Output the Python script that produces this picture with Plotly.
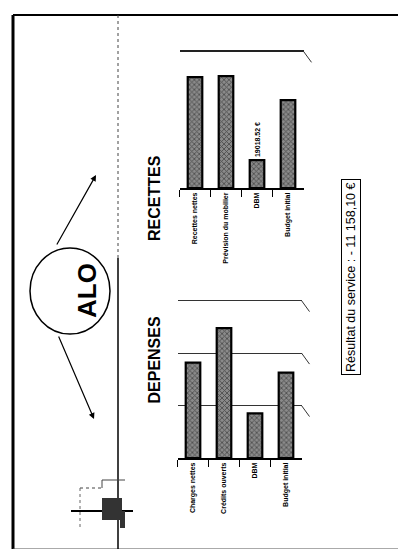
import plotly.graph_objects as go

W, H = 406, 549

# ---- data ----
dep_categories = ["Charges nettes", "Crédits ouverts", "DBM", "Budget initial"]
dep_values = [86558.10, 118000, 40500, 77500]
rec_categories = ["Recettes nettes", "Prévision du mobilier", "DBM", "Budget initial"]
rec_values = [75400, 76200, 19018.52, 59800]
rec_labels = ["", "", "19018.52 €", ""]
dep_range_max = 143000
rec_range_max = 93000
title_dep = "DEPENSES"
title_rec = "RECETTES"
center_text = "ALO"
result_text = "Résultat du service : - 11 158,10 €"


def px(x):
    return x / W


def py(y):
    return 1 - y / H


bar_marker = dict(
    color="#111111",
    line=dict(color="black", width=2.2),
    pattern=dict(shape="x", fgcolor="#111111", bgcolor="#8a8a8a", size=3.5, solidity=0.45),
)

fig = go.Figure()
fig.add_trace(go.Bar(x=dep_categories, y=dep_values, marker=bar_marker,
                     xaxis="x", yaxis="y", showlegend=False))
fig.add_trace(go.Bar(x=rec_categories, y=rec_values, marker=bar_marker,
                     text=rec_labels, textposition="outside", textangle=-90,
                     cliponaxis=False, constraintext="none",
                     textfont=dict(size=7, family="Liberation Sans Narrow, Liberation Sans",
                                   color="black", weight="bold"),
                     xaxis="x2", yaxis="y2", showlegend=False))

tickfont = dict(size=7, family="Liberation Sans Narrow, Liberation Sans", color="black", weight="bold")
axis_x = dict(tickangle=-90, tickfont=tickfont, showline=True, linecolor="black", linewidth=1.5,
              ticks="outside", ticklen=7, tickcolor="black", tickson="boundaries",
              showgrid=False, fixedrange=True)

dep_grid = [0, dep_range_max / 3, 2 * dep_range_max / 3, dep_range_max]
rec_grid = [rec_range_max]

fig.update_layout(
    width=W, height=H, margin=dict(l=0, r=0, t=0, b=0),
    paper_bgcolor="white", plot_bgcolor="rgba(0,0,0,0)",
    bargap=0.53,
    xaxis=dict(domain=[px(169.5), px(293.5)], anchor="y", **axis_x),
    yaxis=dict(domain=[py(450), py(291)], anchor="x", range=[0, dep_range_max * 1.01],
               tickvals=dep_grid, showticklabels=False, showgrid=True,
               gridcolor="#333333", gridwidth=1.2, zeroline=False, fixedrange=True),
    xaxis2=dict(domain=[px(171.5), px(295.5)], anchor="y2", **axis_x),
    yaxis2=dict(domain=[py(180), py(42)], anchor="x2", range=[0, rec_range_max * 1.01],
                tickvals=rec_grid, showticklabels=False, showgrid=True,
                gridcolor="#222222", gridwidth=1.5, zeroline=False, fixedrange=True),
)

shapes = []
# 3D perspective diagonals at the right end of gridlines
for g in dep_grid:
    shapes.append(dict(type="line", xref="x domain", yref="y", x0=1, x1=1 + 8 / 124,
                       y0=g, y1=g - 11 * dep_range_max / 157,
                       line=dict(color="#333", width=1)))
for g in rec_grid:
    shapes.append(dict(type="line", xref="x2 domain", yref="y2", x0=1, x1=1 + 8 / 124,
                       y0=g, y1=g - 11 * rec_range_max / 137,
                       line=dict(color="#333", width=1)))
# front floor lines + left diagonals
for xr, yr, rmax, span in (("x domain", "y", dep_range_max, 157), ("x2 domain", "y2", rec_range_max, 137)):
    off = 8 * rmax / span
    shapes.append(dict(type="line", xref=xr, yref=yr, x0=0.03, x1=1.06, y0=-off, y1=-off,
                       line=dict(color="#333", width=1)))
    shapes.append(dict(type="line", xref=xr, yref=yr, x0=-0.03, x1=0.03, y0=0, y1=-off,
                       line=dict(color="#333", width=1)))

# page frame
shapes += [
    dict(type="line", xref="paper", yref="paper", x0=px(5), x1=px(5), y0=py(7), y1=py(541),
         line=dict(color="black", width=3)),
    dict(type="line", xref="paper", yref="paper", x0=px(5), x1=px(400), y0=py(7), y1=py(7),
         line=dict(color="black", width=2)),
    dict(type="line", xref="paper", yref="paper", x0=px(400), x1=px(400), y0=py(7), y1=py(541),
         line=dict(color="#777", width=1, dash="dot")),
    dict(type="line", xref="paper", yref="paper", x0=px(5), x1=px(400), y0=py(541), y1=py(541),
         line=dict(color="#555", width=1)),
    # vertical separator
    dict(type="line", xref="paper", yref="paper", x0=px(110), x1=px(110), y0=py(7), y1=py(250),
         line=dict(color="#444", width=1, dash="dot")),
    dict(type="line", xref="paper", yref="paper", x0=px(110), x1=px(110), y0=py(250), y1=py(541),
         line=dict(color="black", width=1.5)),
    # circle
    dict(type="circle", xref="paper", yref="paper", x0=px(22), x1=px(102), y0=py(326), y1=py(240),
         line=dict(color="black", width=1.5)),
    # scanner artefact bottom-left
    dict(type="line", xref="paper", yref="paper", x0=px(63), x1=px(125), y0=py(503), y1=py(503),
         line=dict(color="black", width=2)),
    dict(type="rect", xref="paper", yref="paper", x0=px(94), x1=px(114), y0=py(512), y1=py(490),
         line=dict(width=0), fillcolor="#333"),
    dict(type="line", xref="paper", yref="paper", x0=px(94), x1=px(117), y0=py(472), y1=py(472),
         line=dict(color="#444", width=1)),
    dict(type="line", xref="paper", yref="paper", x0=px(72), x1=px(94), y0=py(480), y1=py(480),
         line=dict(color="#444", width=1, dash="dot")),
    dict(type="line", xref="paper", yref="paper", x0=px(94), x1=px(94), y0=py(472), y1=py(480),
         line=dict(color="#444", width=1)),
    dict(type="line", xref="paper", yref="paper", x0=px(72), x1=px(72), y0=py(480), y1=py(520),
         line=dict(color="#666", width=1, dash="dot")),
    dict(type="rect", xref="paper", yref="paper", x0=px(112), x1=px(117), y0=py(520), y1=py(503),
         line=dict(width=0), fillcolor="#333"),
]
fig.update_layout(shapes=shapes)

annotations = [
    dict(text=f"<b>{center_text}</b>", x=px(62), y=py(283), xref="paper", yref="paper",
         showarrow=False, textangle=-90, font=dict(size=26, family="Liberation Sans", color="black")),
    dict(text=f"<b>{title_dep}</b>", x=px(146), y=py(398), xref="paper", yref="paper",
         showarrow=False, textangle=-90, font=dict(size=16, family="Liberation Sans", color="black")),
    dict(text=f"<b>{title_rec}</b>", x=px(146), y=py(145), xref="paper", yref="paper",
         showarrow=False, textangle=-90, font=dict(size=16, family="Liberation Sans", color="black")),
    dict(text=result_text, x=px(353), y=py(269), xref="paper", yref="paper",
         showarrow=False, textangle=-90, bordercolor="black", borderwidth=1, borderpad=2,
         font=dict(size=12.5, family="Liberation Sans", color="black")),
    # arrows
    dict(text="", x=px(88), y=py(167), xref="paper", yref="paper", showarrow=True,
         ax=-40, ay=71, arrowhead=2, arrowsize=1, arrowwidth=1.2, arrowcolor="black"),
    dict(text="", x=px(86), y=py(411), xref="paper", yref="paper", showarrow=True,
         ax=-36, ay=-84, arrowhead=2, arrowsize=1, arrowwidth=1.2, arrowcolor="black"),
]
fig.update_layout(annotations=annotations)

fig.write_html("out.html")
